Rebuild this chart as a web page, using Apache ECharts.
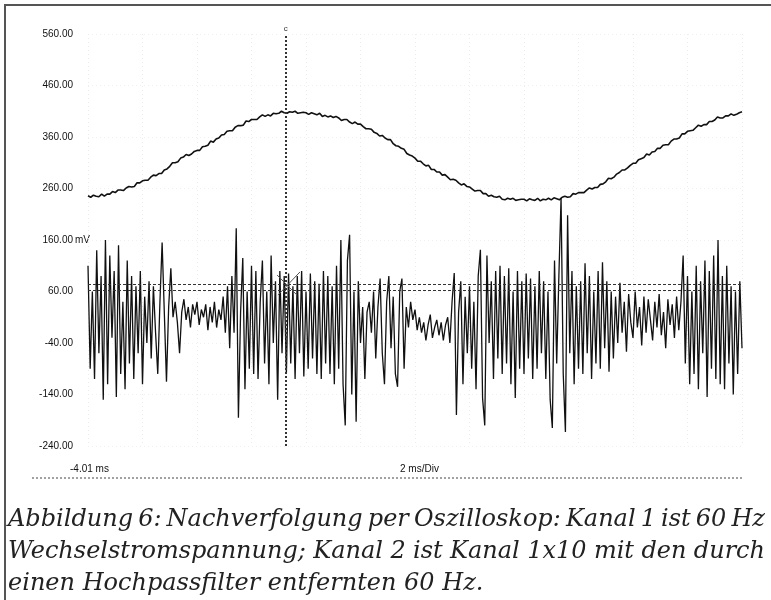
<!DOCTYPE html>
<html>
<head>
<meta charset="utf-8">
<script src="https://cdn.jsdelivr.net/npm/echarts@6/dist/echarts.min.js"></script>
<style>
  html, body { margin: 0; padding: 0; background: #fff; }
  #chart { width: 771px; height: 600px; }
</style>
</head>
<body>
<div id="chart"></div>
<script>
// Zeitachse: Start bei -4.01 ms, 2 ms/Div, 12 Divisionen
var T0 = -4.01;
var T_SPAN = 24;

// Kanal 1: 60 Hz Wechselspannung, ein Wert pro 0.1 ms
var ch1Step = 0.1;
var ch1Values = [
  246,243,247,245,244,249,245,249,249,254,
  252,257,257,256,261,264,263,264,271,271,
  275,276,276,282,286,285,289,289,296,298,
  303,310,310,312,319,321,326,324,327,332,
  334,334,341,342,344,352,350,356,358,364,
  365,371,372,372,379,382,382,383,391,390,
  394,394,394,399,403,400,403,401,406,405,
  406,410,407,406,409,408,410,406,407,408,
  407,404,407,405,403,406,400,402,399,401,
  398,400,397,392,394,394,389,386,389,385,
  385,380,376,376,375,369,367,362,363,358,
  355,355,347,343,342,338,336,328,325,323,
  319,313,313,308,304,305,297,297,292,292,
  286,287,282,277,278,276,271,267,269,264,
  263,259,255,256,256,250,250,245,247,244,
  243,245,239,238,241,239,241,237,238,239,
  239,236,240,238,237,241,236,239,238,241,
  238,242,240,238,243,245,243,244,250,249,
  252,252,252,257,261,259,262,262,268,269,
  273,280,279,282,288,291,296,296,300,305,
  309,309,316,318,320,327,325,331,332,338,
  338,344,345,345,352,356,356,358,366,366,
  371,372,373,378,383,381,384,384,390,390,
  393,399,397,397,401,401,405,402,404,407,
  409
];

// Kanal 2: Kanal 1 x10 nach Hochpass, ein Wert pro 0.08 ms
var ch2Step = 0.08;
var ch2Values = [
  110,-90,60,-110,140,-60,90,-150,160,-120,
  130,-30,100,-145,150,-100,40,-130,120,-80,
  90,-110,70,-60,100,-120,50,-40,80,-70,
  70,-20,-100,40,155,20,-115,30,105,10,
  40,0,-60,20,45,5,30,-10,35,15,
  40,-5,25,10,35,-15,30,0,40,-10,
  25,5,50,-20,70,-50,90,-20,183,-185,
  20,125,-130,60,-90,110,-100,100,-110,40,
  120,-80,60,-120,130,-40,80,-150,100,-60,
  90,-100,95,-80,70,-110,90,-60,100,-105,
  60,-90,95,-70,80,-100,75,-110,100,-80,
  90,-100,70,-120,110,-90,160,-120,-200,120,
  170,-140,60,-193,80,-40,30,-110,20,40,
  -20,60,-70,30,85,-60,-120,40,90,-50,
  50,-100,-125,60,85,-90,30,-10,40,5,
  25,-15,10,-20,0,-35,-5,15,-30,-10,
  5,-25,0,-35,-5,10,-40,40,96,-180,
  20,80,-120,50,-60,70,-90,40,-130,90,
  141,-147,-200,130,-40,80,-110,100,-70,110,
  -100,90,-80,105,-120,60,-147,100,-90,80,
  -100,95,-70,85,-110,70,-90,100,-60,80,
  -110,60,-150,-205,120,-80,90,242,-100,-213,
  208,-60,100,-120,70,-90,80,-100,115,-60,
  90,-110,60,-80,100,-90,117,-50,80,-96,
  60,-70,50,-40,77,-20,40,-57,55,0,
  -30,60,-10,30,-45,50,-20,45,5,-35,
  40,-10,55,-25,20,-50,45,-5,35,-30,
  50,-15,40,130,-80,90,-120,60,-100,110,
  -130,80,-60,120,-145,100,-90,130,-110,160,
  -120,90,-130,110,-80,70,-140,60,-100,80,
  -50
];

// Cursor und Triggerpegel
var cursorTime = 3.245;
var levelLines = [74, 62];
var crossMarks = [[2.93, 92, 3.66, 53], [2.96, 53, 3.77, 98]];

// Achsen
var yMin = -240, yMax = 560, yStep = 100;
var timeLabels = ['-4.01 ms', '2 ms/Div'];

var captionLines = [
  'Abbildung 6: Nachverfolgung per Oszilloskop: Kanal 1 ist 60 Hz',
  'Wechselstromspannung; Kanal 2 ist Kanal 1x10 mit den durch',
  'einen Hochpassfilter entfernten 60 Hz.'
];

function toPairs(values, step) {
  return values.map(function (v, i) { return [T0 + i * step, v]; });
}

// Blocksatz fuer die Bildunterschrift
var capFont = 'italic 24px "DejaVu Serif"';
var measureCtx = document.createElement('canvas').getContext('2d');
measureCtx.font = capFont;
function captionWords(line, mid, left, right, justify) {
  var words = line.split(' ');
  var widths = words.map(function (w) { return measureCtx.measureText(w).width; });
  var total = widths.reduce(function (a, b) { return a + b; }, 0);
  var gap = justify ? (right - left - total) / (words.length - 1) : measureCtx.measureText(' ').width;
  var x = left;
  return words.map(function (w, i) {
    var el = {
      type: 'text', x: x, y: mid, silent: true,
      style: { text: w, font: capFont, fill: '#222', verticalAlign: 'middle' }
    };
    x += widths[i] + gap;
    return el;
  });
}

var graphics = [
  { type: 'rect', shape: { x: 5, y: 5, width: 900, height: 800 }, silent: true,
    style: { fill: 'none', stroke: '#555', lineWidth: 2 } },
  { type: 'line', shape: { x1: 32, y1: 478, x2: 743, y2: 478 }, silent: true,
    style: { stroke: '#444', lineWidth: 1, lineDash: [2, 2] } },
  { type: 'text', x: 70, y: 464, silent: true,
    style: { text: timeLabels[0], font: '10px "Liberation Sans"', fill: '#111' } },
  { type: 'text', x: 400, y: 464, silent: true,
    style: { text: timeLabels[1], font: '10px "Liberation Sans"', fill: '#111' } },
  { type: 'text', x: 75, y: 235, silent: true,
    style: { text: 'mV', font: '10px "Liberation Sans"', fill: '#111' } }
];
graphics = graphics
  .concat(captionWords(captionLines[0], 520, 8, 765, true))
  .concat(captionWords(captionLines[1], 552, 8, 765, true))
  .concat(captionWords(captionLines[2], 584, 8, 765, false));

var chart = echarts.init(document.getElementById('chart'), null, { renderer: 'canvas' });

var option = {
  animation: false,
  backgroundColor: '#fff',
  grid: { left: 88, right: 29, top: 34, bottom: 154 },
  graphic: graphics,
  xAxis: {
    type: 'value', min: T0, max: T0 + T_SPAN, interval: 2,
    axisLine: { show: false }, axisTick: { show: false }, axisLabel: { show: false },
    splitLine: { show: true, lineStyle: { color: '#ececec', type: [1, 3] } }
  },
  yAxis: {
    type: 'value', min: yMin, max: yMax, interval: yStep,
    axisLine: { show: false }, axisTick: { show: false },
    axisLabel: {
      margin: 15, fontSize: 10, color: '#111', fontFamily: 'Liberation Sans',
      formatter: function (v) { return v.toFixed(2); }
    },
    splitLine: { show: true, lineStyle: { color: '#f0f0f0', type: [1, 3] } }
  },
  series: [
    {
      name: 'Kanal 1', type: 'line', data: toPairs(ch1Values, ch1Step),
      symbol: 'none', lineStyle: { color: '#111', width: 1.6 }
    },
    {
      name: 'Kanal 2', type: 'line', data: toPairs(ch2Values, ch2Step),
      symbol: 'none', lineStyle: { color: '#111', width: 1.3 },
      markLine: {
        silent: true, symbol: ['none', 'none'],
        label: { show: false },
        data: [
          { xAxis: cursorTime, lineStyle: { color: '#333', width: 2, type: [2, 2] },
            label: { show: true, position: 'end', formatter: 'c', fontSize: 8, color: '#333', distance: 1 } },
          { yAxis: levelLines[0], lineStyle: { color: '#333', width: 1, type: [3, 2] } },
          { yAxis: levelLines[1], lineStyle: { color: '#333', width: 1, type: [3, 2] } }
        ].concat(crossMarks.map(function (c) {
          return [
            { coord: [c[0], c[1]], lineStyle: { color: '#555', width: 1, type: 'solid' } },
            { coord: [c[2], c[3]] }
          ];
        }))
      }
    }
  ]
};

chart.setOption(option);
</script>
</body>
</html>
